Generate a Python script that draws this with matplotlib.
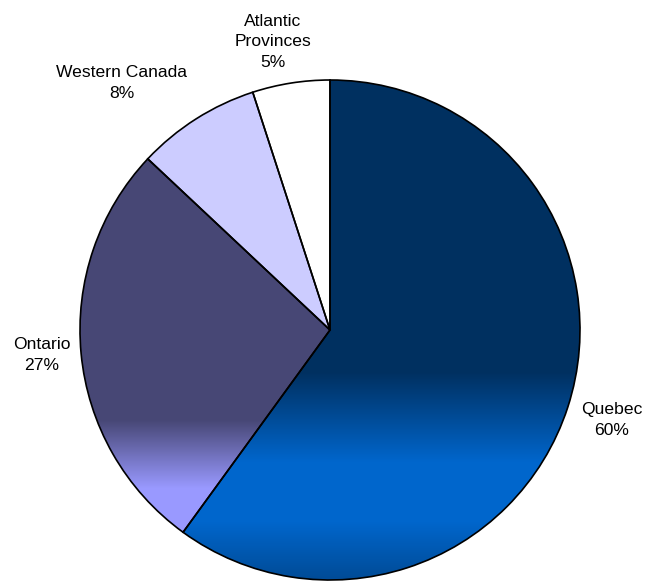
import numpy as np
import matplotlib.pyplot as plt
from matplotlib.patches import Wedge

regions = ['Quebec', 'Ontario', 'Western Canada', 'Atlantic\nProvinces']
shares = [60, 27, 8, 5]

W, H = 646, 583
cx, cy, rad = 330, H - 330, 250

# vertical gradient stops per slice: (image y, colour)
grads = [
    [(80, '#003060'), (372, '#003060'), (462, '#0066CC'), (522, '#0066CC'), (580, '#004B96')],
    [(155, '#474775'), (420, '#474775'), (488, '#9999FF'), (535, '#9999FF')],
    [(0, '#CCCCFF'), (583, '#CCCCFF')],
    [(0, '#FFFFFF'), (583, '#FFFFFF')],
]

# label centres in image pixels
label_pos = [(612, 420), (42, 355), (122, 83), (273, 42)]

plt.rcParams['font.family'] = ['Liberation Sans', 'DejaVu Sans']

fig = plt.figure(figsize=(W / 100, H / 100), dpi=100)
ax = fig.add_axes([0, 0, 1, 1])

wedges, _ = ax.pie(shares, startangle=90, counterclock=False, center=(cx, cy),
                   radius=rad, colors=[g[0][1] for g in grads],
                   wedgeprops=dict(linewidth=0))
ax.set_aspect('equal')
ax.axis('off')


def hex2rgb(h):
    h = h.lstrip('#')
    return [int(h[i:i + 2], 16) / 255 for i in (0, 2, 4)]


ys = np.arange(H) + 0.5
for w, stops in zip(wedges, grads):
    sy = [s[0] for s in stops]
    cols = np.array([hex2rgb(s[1]) for s in stops])
    img = np.stack([np.interp(ys, sy, cols[:, k]) for k in range(3)], axis=-1)
    img = np.repeat(img[:, None, :], 4, axis=1)
    im = ax.imshow(img, extent=(0, W, 0, H), origin='upper', aspect='auto',
                   interpolation='nearest', zorder=2)
    im.set_clip_path(w)
    ax.add_patch(Wedge(w.center, w.r, w.theta1, w.theta2, fill=False,
                       ec='black', lw=1.2, zorder=3))

ax.set_xlim(0, W)
ax.set_ylim(0, H)

for name, val, (x, y) in zip(regions, shares, label_pos):
    ax.text(x, H - y, f'{name}\n{val}%', ha='center', va='center',
            fontsize=12.6, linespacing=1.45, color='black', zorder=4)

fig.savefig('out.png', dpi=100)
